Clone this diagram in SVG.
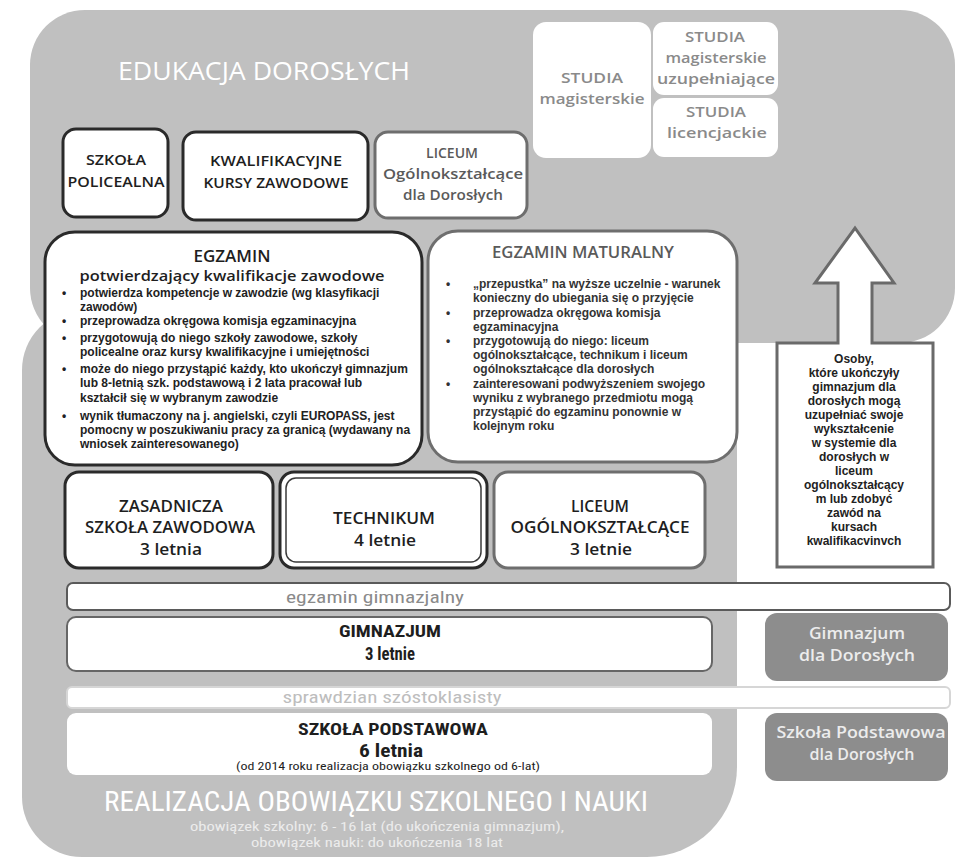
<svg xmlns="http://www.w3.org/2000/svg" width="962" height="859" viewBox="0 0 962 859">
<style>
.bg{fill:#c0c0c0}
.bk{fill:#fff;stroke:#2a2a2a;stroke-width:3}
.gr{fill:#fff;stroke:#6e6e6e;stroke-width:3}
.st{fill:#fff}
.dk{fill:#8d8d8d}
text{font-family:"Open Sans","DejaVu Sans",sans-serif}
.h{font-weight:600;text-anchor:middle;fill:#1e1e1e}
.hg{font-weight:600;text-anchor:middle;fill:#5a5a5a}
.sd{font-weight:600;text-anchor:middle;fill:#8a8a8a;font-size:15px}
.b,.bm,.ba{font-family:"Liberation Sans","DejaVu Sans",sans-serif;font-weight:700;font-size:12px;fill:#222}
.bm{fill:#333}
.ba{text-anchor:middle}
.n{font-family:"Liberation Sans Narrow","Roboto Condensed","Liberation Sans",sans-serif;text-anchor:middle}
.w{fill:#fff}
.dt{font-weight:600;text-anchor:middle;fill:#ececec;font-size:16px}
</style>

<g id="bg-realizacja"><path class="bg" d="M82,310 H737 V767 A90,90 0 0 1 647,857 H82 A60,60 0 0 1 22,797 V370 A60,60 0 0 1 82,310 Z"/></g>
<g id="bg-edukacja"><rect class="bg" x="30" y="10" width="925" height="333" rx="55"/></g>

<g id="title-edukacja"><text x="264" y="80" font-size="25" class="w" text-anchor="middle" textLength="292" lengthAdjust="spacingAndGlyphs">EDUKACJA DOROSŁYCH</text></g>

<g id="studia-mgr"><rect class="st" x="533" y="22" width="118" height="136" rx="13"/>
<text class="sd" x="592" y="83" textLength="62" lengthAdjust="spacingAndGlyphs">STUDIA</text>
<text class="sd" x="592" y="104" textLength="105" lengthAdjust="spacingAndGlyphs">magisterskie</text></g>
<g id="studia-uzup"><rect class="st" x="653" y="22" width="125" height="73" rx="11"/>
<text class="sd" x="715" y="42" textLength="60" lengthAdjust="spacingAndGlyphs">STUDIA</text>
<text class="sd" x="716" y="63" textLength="101" lengthAdjust="spacingAndGlyphs">magisterskie</text>
<text class="sd" x="716" y="84" textLength="118" lengthAdjust="spacingAndGlyphs">uzupełniające</text></g>
<g id="studia-lic"><rect class="st" x="653" y="98" width="125" height="59" rx="11"/>
<text class="sd" x="716" y="117" textLength="60" lengthAdjust="spacingAndGlyphs">STUDIA</text>
<text class="sd" x="717" y="138" textLength="100" lengthAdjust="spacingAndGlyphs">licencjackie</text></g>

<g id="szkola-policealna"><rect class="bk" x="63" y="129" width="105" height="88" rx="13"/>
<text class="h" x="116" y="165" font-size="14" textLength="60" lengthAdjust="spacingAndGlyphs">SZKOŁA</text>
<text class="h" x="116" y="187" font-size="14" textLength="97" lengthAdjust="spacingAndGlyphs">POLICEALNA</text></g>
<g id="kursy"><rect class="bk" x="183" y="132" width="185" height="88" rx="13"/>
<text class="h" x="276" y="166" font-size="14" textLength="132" lengthAdjust="spacingAndGlyphs">KWALIFIKACYJNE</text>
<text class="h" x="276" y="188" font-size="14" textLength="145" lengthAdjust="spacingAndGlyphs">KURSY ZAWODOWE</text></g>
<g id="liceum-dorosli"><rect class="gr" x="375" y="132" width="152" height="86" rx="13"/>
<text class="hg" x="452" y="158" font-size="14">LICEUM</text>
<text class="hg" x="453" y="179" font-size="14" textLength="140" lengthAdjust="spacingAndGlyphs">Ogólnokształcące</text>
<text class="hg" x="453" y="200" font-size="14" textLength="100" lengthAdjust="spacingAndGlyphs">dla Dorosłych</text></g>

<g id="egzamin-zawodowy"><rect class="bk" x="45" y="232" width="377" height="233" rx="30"/>
<text class="h" x="232" y="262" font-size="17" font-weight="700">EGZAMIN</text>
<text class="h" x="232" y="281" font-size="15" textLength="305" lengthAdjust="spacingAndGlyphs">potwierdzający kwalifikacje zawodowe</text>
<text class="b" x="62" y="297">•</text><text class="b" x="80" y="297">potwierdza kompetencje w zawodzie (wg klasyfikacji</text>
<text class="b" x="80" y="311">zawodów)</text>
<text class="b" x="62" y="325">•</text><text class="b" x="80" y="325">przeprowadza okręgowa komisja egzaminacyjna</text>
<text class="b" x="62" y="342">•</text><text class="b" x="80" y="342">przygotowują do niego szkoły zawodowe, szkoły</text>
<text class="b" x="80" y="356">policealne oraz kursy kwalifikacyjne i umiejętności</text>
<text class="b" x="62" y="373">•</text><text class="b" x="80" y="373">może do niego przystąpić każdy, kto ukończył gimnazjum</text>
<text class="b" x="80" y="387">lub 8-letnią szk. podstawową i 2 lata pracował lub</text>
<text class="b" x="80" y="402">kształcił się w wybranym zawodzie</text>
<text class="b" x="62" y="420">•</text><text class="b" x="80" y="420">wynik tłumaczony na j. angielski, czyli  EUROPASS, jest</text>
<text class="b" x="80" y="434">pomocny w poszukiwaniu pracy za granicą (wydawany na</text>
<text class="b" x="80" y="448">wniosek zainteresowanego)</text></g>

<g id="egzamin-maturalny"><rect class="gr" x="428" y="231" width="309" height="231" rx="30"/>
<text class="hg" x="583" y="258" font-size="16" textLength="182" lengthAdjust="spacingAndGlyphs">EGZAMIN MATURALNY</text>
<text class="bm" x="446" y="288">•</text><text class="bm" x="473" y="288">„przepustka” na wyższe uczelnie - warunek</text>
<text class="bm" x="473" y="302">konieczny do ubiegania się o przyjęcie</text>
<text class="bm" x="446" y="317">•</text><text class="bm" x="473" y="317">przeprowadza okręgowa komisja</text>
<text class="bm" x="473" y="331">egzaminacyjna</text>
<text class="bm" x="446" y="345">•</text><text class="bm" x="473" y="345">przygotowują do niego: liceum</text>
<text class="bm" x="473" y="359">ogólnokształcące, technikum i liceum</text>
<text class="bm" x="473" y="373">ogólnokształcące dla dorosłych</text>
<text class="bm" x="446" y="388">•</text><text class="bm" x="473" y="388">zainteresowani podwyższeniem swojego</text>
<text class="bm" x="473" y="402">wyniku z wybranego przedmiotu mogą</text>
<text class="bm" x="473" y="416">przystąpić  do egzaminu ponownie w</text>
<text class="bm" x="473" y="430">kolejnym roku</text></g>

<g id="strzalka"><path d="M777,567 V343 H838 V283 H815 L855,228 L894,283 H872 V343 H933 V567 Z" fill="#fff" stroke="#6a6a6a" stroke-width="3"/>
<text class="ba" x="854" y="363">Osoby,</text>
<text class="ba" x="854" y="377">które ukończyły</text>
<text class="ba" x="854" y="391">gimnazjum dla</text>
<text class="ba" x="854" y="405">dorosłych mogą</text>
<text class="ba" x="854" y="419">uzupełniać swoje</text>
<text class="ba" x="854" y="433">wykształcenie</text>
<text class="ba" x="854" y="447">w systemie dla</text>
<text class="ba" x="854" y="461">dorosłych w</text>
<text class="ba" x="854" y="475">liceum</text>
<text class="ba" x="854" y="489">ogólnokształcący</text>
<text class="ba" x="854" y="503">m lub zdobyć</text>
<text class="ba" x="854" y="517">zawód na</text>
<text class="ba" x="854" y="531">kursach</text>
<text class="ba" x="854" y="545">kwalifikacvinvch</text></g>

<g id="zasadnicza"><rect class="bk" x="65" y="472" width="208" height="96" rx="14"/>
<text class="h" x="171" y="512" font-size="17" textLength="104" lengthAdjust="spacingAndGlyphs">ZASADNICZA</text>
<text class="h" x="170" y="533" font-size="17" textLength="170" lengthAdjust="spacingAndGlyphs">SZKOŁA ZAWODOWA</text>
<text class="h" x="171" y="555" font-size="17" textLength="62" lengthAdjust="spacingAndGlyphs">3 letnia</text></g>
<g id="technikum"><rect class="bk" x="280" y="472" width="207" height="96" rx="14"/>
<rect x="286" y="478" width="195" height="84" rx="10" fill="none" stroke="#3a3a3a" stroke-width="1.5"/>
<text class="h" x="384" y="524" font-size="17" textLength="102" lengthAdjust="spacingAndGlyphs">TECHNIKUM</text>
<text class="h" x="385" y="546" font-size="17" textLength="62" lengthAdjust="spacingAndGlyphs">4 letnie</text></g>
<g id="liceum"><rect class="gr" x="494" y="472" width="211" height="96" rx="14"/>
<text class="h" x="600" y="512" font-size="17" textLength="58" lengthAdjust="spacingAndGlyphs">LICEUM</text>
<text class="h" x="600" y="533" font-size="17" textLength="179" lengthAdjust="spacingAndGlyphs">OGÓLNOKSZTAŁCĄCE</text>
<text class="h" x="601" y="555" font-size="17" textLength="62" lengthAdjust="spacingAndGlyphs">3 letnie</text></g>

<g id="egzamin-gimnazjalny"><rect x="67" y="583" width="883" height="27" rx="6" fill="#fff" stroke="#5a5a5a" stroke-width="2"/>
<text class="n" x="375" y="603" font-size="17" fill="#8a8a8a" textLength="178" lengthAdjust="spacingAndGlyphs">egzamin gimnazjalny</text></g>

<g id="gimnazjum"><rect x="67" y="617" width="645" height="54" rx="9" fill="#fff" stroke="#666" stroke-width="2"/>
<text class="n" x="390" y="637" font-size="17" font-weight="700" fill="#1e1e1e" textLength="102" lengthAdjust="spacingAndGlyphs">GIMNAZJUM</text>
<text class="n" x="390" y="660" font-size="18" font-weight="700" fill="#1e1e1e" textLength="50" lengthAdjust="spacingAndGlyphs">3 letnie</text></g>
<g id="gimnazjum-dorosli"><rect class="dk" x="765" y="613" width="183" height="68" rx="12"/>
<text class="dt" x="857" y="639" textLength="96" lengthAdjust="spacingAndGlyphs">Gimnazjum</text>
<text class="dt" x="857" y="661" textLength="116" lengthAdjust="spacingAndGlyphs">dla Dorosłych</text></g>

<g id="sprawdzian"><rect x="67" y="687" width="883" height="21" rx="5" fill="#fff" stroke="#d6d6d6" stroke-width="2"/>
<text class="n" x="392" y="703" font-size="17" fill="#bdbdbd" textLength="219" lengthAdjust="spacingAndGlyphs">sprawdzian szóstoklasisty</text></g>

<g id="szkola-podstawowa"><rect class="st" x="67" y="713" width="645" height="62" rx="9"/>
<text class="n" x="393" y="735" font-size="17" font-weight="700" fill="#1e1e1e" textLength="190" lengthAdjust="spacingAndGlyphs">SZKOŁA PODSTAWOWA</text>
<text class="n" x="391" y="757" font-size="18" font-weight="700" fill="#1e1e1e" textLength="64" lengthAdjust="spacingAndGlyphs">6 letnia</text>
<text class="n" x="388" y="770" font-size="11" fill="#1e1e1e" textLength="304" lengthAdjust="spacingAndGlyphs">(od 2014 roku realizacja obowiązku szkolnego od 6-lat)</text></g>
<g id="podstawowa-dorosli"><rect class="dk" x="765" y="713" width="183" height="68" rx="12"/>
<text class="dt" x="861" y="738" textLength="169" lengthAdjust="spacingAndGlyphs">Szkoła Podstawowa</text>
<text class="dt" x="862" y="760" textLength="105" lengthAdjust="spacingAndGlyphs">dla Dorosłych</text></g>

<g id="title-realizacja">
<text class="n w" x="376" y="811" font-size="27" textLength="544" lengthAdjust="spacingAndGlyphs">REALIZACJA OBOWIĄZKU SZKOLNEGO I NAUKI</text>
<text class="n" x="377" y="831" font-size="12.5" fill="#ececec" textLength="374" lengthAdjust="spacingAndGlyphs">obowiązek szkolny: 6 - 16 lat (do ukończenia gimnazjum),</text>
<text class="n" x="377" y="847" font-size="12.5" fill="#ececec" textLength="252" lengthAdjust="spacingAndGlyphs">obowiązek nauki: do ukończenia 18 lat</text></g>

<g id="connectors"></g>
</svg>
